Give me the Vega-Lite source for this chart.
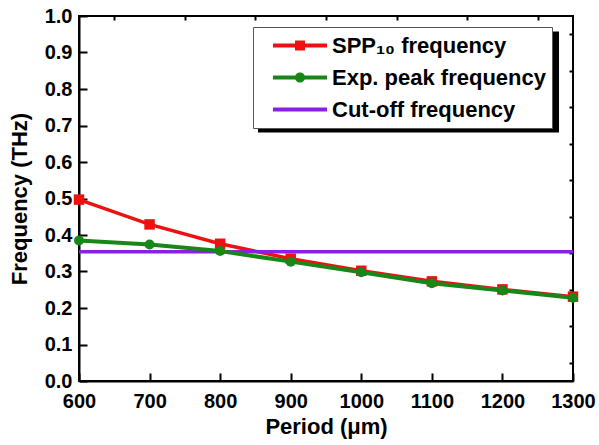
{
  "$schema": "https://vega.github.io/schema/vega-lite/v6.json",
  "width": 494,
  "height": 365,
  "autosize": "none",
  "padding": {"left": 79, "top": 16, "right": 26, "bottom": 64},
  "config": {
    "font": "Liberation Sans",
    "view": {"stroke": "black", "strokeWidth": 2},
    "axis": {"grid": false, "labelFont": "Liberation Sans", "titleFont": "Liberation Sans", "labelFontWeight": "bold", "titleFontWeight": "bold", "labelColor": "black", "titleColor": "black", "domainColor": "black", "tickColor": "black", "labelFlush": false, "labelOverlap": false}
  },
  "data": {"values": [
    {"period": 600, "freq": 0.497, "series": "SPP₁₀  frequency"},
    {"period": 700, "freq": 0.429, "series": "SPP₁₀  frequency"},
    {"period": 800, "freq": 0.376, "series": "SPP₁₀  frequency"},
    {"period": 900, "freq": 0.335, "series": "SPP₁₀  frequency"},
    {"period": 1000, "freq": 0.302, "series": "SPP₁₀  frequency"},
    {"period": 1100, "freq": 0.273, "series": "SPP₁₀  frequency"},
    {"period": 1200, "freq": 0.251, "series": "SPP₁₀  frequency"},
    {"period": 1300, "freq": 0.231, "series": "SPP₁₀  frequency"},
    {"period": 600, "freq": 0.385, "series": "Exp. peak frequency"},
    {"period": 700, "freq": 0.374, "series": "Exp. peak frequency"},
    {"period": 800, "freq": 0.356, "series": "Exp. peak frequency"},
    {"period": 900, "freq": 0.327, "series": "Exp. peak frequency"},
    {"period": 1000, "freq": 0.298, "series": "Exp. peak frequency"},
    {"period": 1100, "freq": 0.268, "series": "Exp. peak frequency"},
    {"period": 1200, "freq": 0.248, "series": "Exp. peak frequency"},
    {"period": 1300, "freq": 0.228, "series": "Exp. peak frequency"},
    {"period": 600, "freq": 0.354, "series": "Cut-off frequency"},
    {"period": 1300, "freq": 0.354, "series": "Cut-off frequency"}
  ]},
  "resolve": {"axis": {"x": "independent", "y": "independent"}},
  "layer": [
    {
      "data": {"values": [{"item": "legend shadow"}]},
      "mark": {"type": "rect", "fill": "black", "fillOpacity": 1, "opacity": 1},
      "encoding": {
        "x": {"datum": 853.6, "type": "quantitative", "axis": null, "scale": {"domain": [600, 1300], "nice": false, "zero": false}},
        "x2": {"datum": 1280.2},
        "y": {"datum": 0.9575, "type": "quantitative", "axis": null, "scale": {"domain": [0, 1], "nice": false}},
        "y2": {"datum": 0.681}
      }
    },
    {
      "mark": {"type": "point", "filled": true, "opacity": 0},
      "encoding": {
        "x": {"field": "period", "type": "quantitative", "axis": null, "scale": {"domain": [600, 1300], "nice": false, "zero": false}},
        "y": {"field": "freq", "type": "quantitative", "axis": null, "scale": {"domain": [0, 1], "nice": false}},
        "color": {"field": "series", "type": "nominal",
          "scale": {"domain": ["SPP₁₀  frequency", "Exp. peak frequency", "Cut-off frequency"], "range": ["#ee1111", "#178717", "#8c1ee6"]},
          "legend": {"orient": "none", "legendX": 174, "legendY": 11, "title": null,
            "fillColor": "white", "strokeColor": "#555555", "padding": 6, "clipHeight": 25, "rowPadding": 7,
            "symbolSize": 4624, "symbolOpacity": 1, "symbolStrokeWidth": 0, "labelFontSize": 22, "labelFont": "Liberation Sans", "labelFontWeight": "bold", "labelColor": "black", "labelOffset": 5, "labelLimit": 400}},
        "shape": {"field": "series", "type": "nominal",
          "scale": {"domain": ["SPP₁₀  frequency", "Exp. peak frequency", "Cut-off frequency"],
            "range": [
              "M-0.588,-0.06H1V0.06H-0.588Z M0.059,-0.147H0.353V0.147H0.059Z",
              "M-0.588,-0.06H1V0.06H-0.588Z M0.056,0A0.15,0.15,0,1,1,0.356,0A0.15,0.15,0,1,1,0.056,0Z",
              "M-0.588,-0.06H1V0.06H-0.588Z"
            ]},
          "legend": {"orient": "none", "legendX": 174, "legendY": 11, "title": null,
            "fillColor": "white", "strokeColor": "#555555", "padding": 6, "clipHeight": 25, "rowPadding": 7,
            "symbolSize": 4624, "symbolOpacity": 1, "symbolStrokeWidth": 0, "labelFontSize": 22, "labelFont": "Liberation Sans", "labelFontWeight": "bold", "labelColor": "black", "labelOffset": 5, "labelLimit": 400}}
      }
    },
    {
      "transform": [{"filter": "datum.series == 'SPP₁₀  frequency'"}],
      "mark": {"type": "line", "color": "#ee1111", "strokeWidth": 3.5},
      "encoding": {
        "x": {"field": "period", "type": "quantitative", "scale": {"domain": [600, 1300], "nice": false, "zero": false},
          "axis": {"values": [600, 700, 800, 900, 1000, 1100, 1200, 1300], "format": "d", "tickSize": -8, "tickWidth": 2, "domainWidth": 2, "labelFontSize": 20, "labelPadding": 18, "title": "Period (μm)", "titleFontSize": 22, "titlePadding": 5}},
        "y": {"field": "freq", "type": "quantitative", "scale": {"domain": [0, 1], "nice": false},
          "axis": {"values": [0, 0.1, 0.2, 0.3, 0.4, 0.5, 0.6, 0.7, 0.8, 0.9, 1.0], "format": ".1f", "tickSize": -8, "tickWidth": 2, "domainWidth": 2, "labelFontSize": 20, "labelPadding": 15, "title": "Frequency (THz)", "titleFontSize": 22, "titlePadding": 13}}
      }
    },
    {
      "transform": [{"filter": "datum.series == 'SPP₁₀  frequency'"}],
      "mark": {"type": "point", "shape": "square", "filled": true, "opacity": 1, "color": "#ee1111", "size": 110},
      "encoding": {
        "x": {"field": "period", "type": "quantitative",
          "axis": {"values": [650, 750, 850, 950, 1050, 1150, 1250], "tickSize": -4, "tickWidth": 2, "domain": false, "labels": false, "title": null}},
        "y": {"field": "freq", "type": "quantitative",
          "axis": {"values": [0.05, 0.15, 0.25, 0.35, 0.45, 0.55, 0.65, 0.75, 0.85, 0.95], "tickSize": -4, "tickWidth": 2, "domain": false, "labels": false, "title": null}}
      }
    },
    {
      "transform": [{"filter": "datum.series == 'Cut-off frequency'"}],
      "mark": {"type": "line", "color": "#8c1ee6", "strokeWidth": 3.5},
      "encoding": {
        "x": {"field": "period", "type": "quantitative", "axis": null},
        "y": {"field": "freq", "type": "quantitative", "axis": null}
      }
    },
    {
      "transform": [{"filter": "datum.series == 'Exp. peak frequency'"}],
      "mark": {"type": "line", "color": "#178717", "strokeWidth": 4},
      "encoding": {
        "x": {"field": "period", "type": "quantitative", "axis": null},
        "y": {"field": "freq", "type": "quantitative", "axis": null}
      }
    },
    {
      "transform": [{"filter": "datum.series == 'Exp. peak frequency'"}],
      "mark": {"type": "point", "shape": "circle", "filled": true, "opacity": 1, "color": "#178717", "size": 100},
      "encoding": {
        "x": {"field": "period", "type": "quantitative", "axis": null},
        "y": {"field": "freq", "type": "quantitative", "axis": null}
      }
    }
  ]
}
